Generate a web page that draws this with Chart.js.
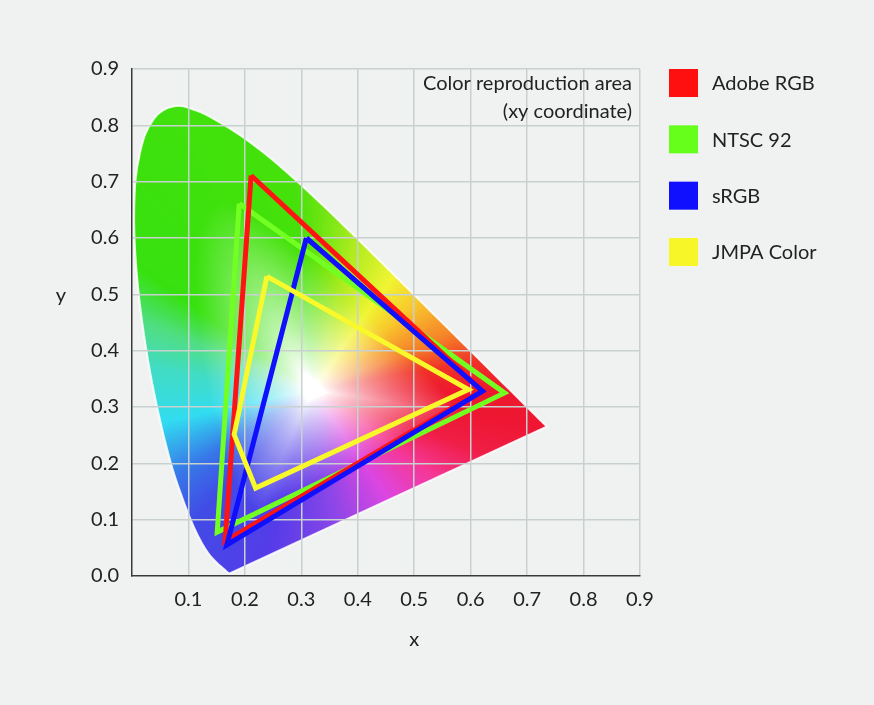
<!DOCTYPE html>
<html>
<head>
<meta charset="utf-8">
<script src="https://cdn.jsdelivr.net/npm/chart.js@4.4.0/dist/chart.umd.min.js"></script>
<style>
  html, body { margin: 0; padding: 0; background: #f0f2f2; }
  canvas { display: block; }
</style>
</head>
<body>
<canvas id="gamutChart" width="874" height="705"></canvas>
<script>
// CIE 1931 spectral locus (380 - 700 nm), read to match the picture
const locusX = [0.1741, 0.1740, 0.1738, 0.1736, 0.1733, 0.1730, 0.1726, 0.1721, 0.1714, 0.1703,
    0.1689, 0.1669, 0.1644, 0.1611, 0.1566, 0.1510, 0.1440, 0.1355, 0.1241, 0.1096,
    0.0913, 0.0687, 0.0454, 0.0235, 0.0082, 0.0039, 0.0139, 0.0389, 0.0743, 0.1142,
    0.1547, 0.1929, 0.2296, 0.2658, 0.3016, 0.3373, 0.3731, 0.4087, 0.4441, 0.4788,
    0.5125, 0.5448, 0.5752, 0.6029, 0.6270, 0.6482, 0.6658, 0.6801, 0.6915, 0.7079,
    0.7190, 0.7260, 0.7300, 0.7334, 0.7347];
const locusY = [0.0050, 0.0050, 0.0049, 0.0049, 0.0048, 0.0048, 0.0048, 0.0048, 0.0051, 0.0058,
    0.0069, 0.0086, 0.0109, 0.0138, 0.0177, 0.0227, 0.0297, 0.0399, 0.0578, 0.0868,
    0.1327, 0.2007, 0.2950, 0.4127, 0.5384, 0.6548, 0.7502, 0.8120, 0.8338, 0.8262,
    0.8059, 0.7816, 0.7543, 0.7243, 0.6923, 0.6589, 0.6245, 0.5896, 0.5547, 0.5202,
    0.4866, 0.4544, 0.4242, 0.3965, 0.3725, 0.3514, 0.3340, 0.3197, 0.3083, 0.2920,
    0.2809, 0.2740, 0.2700, 0.2666, 0.2653];

// gamut corners (x, y)
const adobeX = [0.211, 0.620, 0.165];
const adobeY = [0.711, 0.330, 0.062];
const ntscX = [0.190, 0.660, 0.151];
const ntscY = [0.661, 0.325, 0.078];
const srgbX = [0.309, 0.621, 0.168];
const srgbY = [0.600, 0.328, 0.055];
const jmpaX = [0.239, 0.596, 0.219, 0.181];
const jmpaY = [0.532, 0.331, 0.156, 0.251];

const seriesNames = ['Adobe RGB', 'NTSC 92', 'sRGB', 'JMPA Color'];
const noteLines = ['Color reproduction area', '(xy coordinate)'];

const FONT = 'Lato, "Open Sans", sans-serif';
const TEXT = '#222';

// colour wheel round the white point used to paint the diagram
const whiteX = 0.32, whiteY = 0.33;
const hueAngles = [0, 10, 22, 40, 55, 75, 95, 145, 158, 172, 192, 212, 228, 255, 280, 305, 325, 340, 351];
const hueColors = [
    [238, 25, 45], [240, 50, 40], [245, 130, 40], [248, 200, 45], [240, 245, 50], [170, 235, 30],
    [70, 225, 10], [55, 225, 15], [80, 222, 130], [65, 220, 195], [50, 220, 240], [55, 120, 232],
    [65, 75, 230], [85, 60, 232], [140, 70, 232], [220, 70, 225], [245, 55, 150], [240, 30, 70],
    [238, 22, 50]];

function toPoints(xs, ys, close) {
    const pts = xs.map((x, i) => ({x: x, y: ys[i]}));
    if (close) pts.push({x: xs[0], y: ys[0]});
    return pts;
}

function hueAt(deg) {
    for (let i = 0; i < hueAngles.length; i++) {
        const a0 = hueAngles[i];
        const a1 = i + 1 < hueAngles.length ? hueAngles[i + 1] : 360;
        if (deg >= a0 && deg <= a1) {
            const c0 = hueColors[i];
            const c1 = i + 1 < hueColors.length ? hueColors[i + 1] : hueColors[0];
            const t = (deg - a0) / (a1 - a0);
            return c0.map((v, k) => v + (c1[k] - v) * t);
        }
    }
    return hueColors[0];
}

// distance from the white point to the locus, per half degree
function locusRadius() {
    const out = [];
    const n = locusX.length;
    for (let k = 0; k < 720; k++) {
        const a = k / 2 * Math.PI / 180;
        const dx = Math.cos(a), dy = Math.sin(a);
        let best = 0;
        for (let i = 0; i < n; i++) {
            const j = (i + 1) % n;
            const ex = locusX[j] - locusX[i], ey = locusY[j] - locusY[i];
            const den = dx * ey - dy * ex;
            if (Math.abs(den) < 1e-12) continue;
            const wx = locusX[i] - whiteX, wy = locusY[i] - whiteY;
            const t = (wx * ey - wy * ex) / den;
            const u = (wx * dy - wy * dx) / den;
            if (t > 0 && u >= 0 && u <= 1 && t > best) best = t;
        }
        out.push(best || 0.3);
    }
    return out;
}

const diagramFill = {
    id: 'diagramFill',
    beforeDraw(chart) {
        const meta = chart.getDatasetMeta(0);
        if (!meta.data.length) return;
        const {ctx, chartArea} = chart;
        const sx = chart.scales.x, sy = chart.scales.y;
        const w = Math.ceil(chartArea.right - chartArea.left);
        const h = Math.ceil(chartArea.bottom - chartArea.top);

        if (!this.img || this.img.width !== w || this.img.height !== h) {
            const radius = locusRadius();
            const hues = [];
            for (let k = 0; k < 720; k++) hues.push(hueAt(k / 2));
            const off = document.createElement('canvas');
            off.width = w;
            off.height = h;
            const octx = off.getContext('2d');
            const img = octx.createImageData(w, h);
            for (let j = 0; j < h; j++) {
                const yv = sy.getValueForPixel(chartArea.top + j + 0.5);
                for (let i = 0; i < w; i++) {
                    const xv = sx.getValueForPixel(chartArea.left + i + 0.5);
                    const dx = xv - whiteX, dy = yv - whiteY;
                    let deg = Math.atan2(dy, dx) * 180 / Math.PI;
                    if (deg < 0) deg += 360;
                    const k = Math.round(deg * 2) % 720;
                    const s = Math.hypot(dx, dy) / radius[k];
                    let f = Math.min(1, Math.max(0, (s - 0.06) / 0.6));
                    f = Math.pow(f, 0.8);
                    const c = hues[k];
                    const p = (j * w + i) * 4;
                    img.data[p] = 255 - (255 - c[0]) * f;
                    img.data[p + 1] = 255 - (255 - c[1]) * f;
                    img.data[p + 2] = 255 - (255 - c[2]) * f;
                    img.data[p + 3] = 255;
                }
            }
            octx.putImageData(img, 0, 0);
            this.img = off;
        }

        // smooth outline of the locus from the line element of dataset 0
        const line = meta.dataset;
        ctx.save();
        ctx.beginPath();
        if (line && line.updateControlPoints) {
            line.updateControlPoints(chartArea, 'x');
            line.path(ctx);
        } else {
            meta.data.forEach((pt, i) => i ? ctx.lineTo(pt.x, pt.y) : ctx.moveTo(pt.x, pt.y));
        }
        ctx.closePath();
        ctx.save();
        ctx.clip();
        ctx.drawImage(this.img, chartArea.left, chartArea.top);
        ctx.restore();
        ctx.strokeStyle = 'rgba(255,255,255,0.85)';
        ctx.lineWidth = 2;
        ctx.stroke();
        ctx.restore();
    }
};

const labelsPlugin = {
    id: 'labelsPlugin',
    afterDraw(chart) {
        const {ctx, chartArea} = chart;
        const sx = chart.scales.x, sy = chart.scales.y;
        const step = sy.getPixelForValue(0) - sy.getPixelForValue(0.1);
        ctx.save();
        ctx.fillStyle = TEXT;
        ctx.font = '20px ' + FONT;
        ctx.textBaseline = 'middle';

        // note in the top right corner of the plot
        ctx.textAlign = 'right';
        noteLines.forEach((line, i) => ctx.fillText(line, chartArea.right - 8, chartArea.top + 15 + i * 28));

        // axis titles
        ctx.textAlign = 'center';
        ctx.fillText('x', sx.getPixelForValue(0.5), 640);
        ctx.fillText('y', 61, sy.getPixelForValue(0.5) + 1);

        // legend
        ctx.textAlign = 'left';
        const legendSets = chart.data.datasets.filter(d => d.inLegend);
        legendSets.forEach((d, i) => {
            const cy = chartArea.top + 14 + i * step;
            ctx.fillStyle = d.legendColor;
            ctx.fillRect(chartArea.right + 29, cy - 14, 29, 28);
            ctx.fillStyle = TEXT;
            ctx.fillText(d.label, chartArea.right + 72, cy + 1);
        });
        ctx.restore();
    }
};

const ctx = document.getElementById('gamutChart').getContext('2d');

const gamutChart = new Chart(ctx, {
    type: 'scatter',
    data: {
        datasets: [
            {
                label: 'locus',
                data: toPoints(locusX, locusY, false),
                borderColor: 'rgba(0,0,0,0)',
                borderWidth: 0,
                tension: 0.4,
                order: 5
            },
            {
                label: seriesNames[0],
                data: toPoints(adobeX, adobeY, true),
                borderColor: '#ff1414',
                legendColor: '#ff1010',
                inLegend: true,
                order: 3
            },
            {
                label: seriesNames[1],
                data: toPoints(ntscX, ntscY, true),
                borderColor: '#72ff22',
                legendColor: '#66ff1c',
                inLegend: true,
                order: 4
            },
            {
                label: seriesNames[2],
                data: toPoints(srgbX, srgbY, true),
                borderColor: '#1010ff',
                legendColor: '#1010ff',
                inLegend: true,
                order: 2
            },
            {
                label: seriesNames[3],
                data: toPoints(jmpaX, jmpaY, true),
                borderColor: '#f8f82a',
                legendColor: '#f6f628',
                inLegend: true,
                order: 1
            }
        ]
    },
    options: {
        responsive: false,
        animation: false,
        layout: {
            padding: {top: 69, right: 234, left: 0, bottom: 0}
        },
        datasets: {
            scatter: {
                showLine: true,
                borderWidth: 5,
                borderJoinStyle: 'miter',
                pointRadius: 0,
                fill: false
            }
        },
        plugins: {
            legend: {display: false},
            tooltip: {enabled: false}
        },
        scales: {
            x: {
                type: 'linear',
                min: 0,
                max: 0.9,
                afterFit: scale => { scale.height = 129; },
                ticks: {
                    stepSize: 0.1,
                    padding: 12,
                    color: TEXT,
                    font: {family: FONT, size: 20},
                    callback: v => v === 0 ? '' : v.toFixed(1)
                },
                grid: {
                    drawTicks: false,
                    lineWidth: 1.5,
                    color: c => c.tick && c.tick.value === 0 ? 'rgba(0,0,0,0)' : '#c8d0d0'
                },
                border: {color: '#3a3a3a', width: 1.5}
            },
            y: {
                type: 'linear',
                min: 0,
                max: 0.9,
                afterFit: scale => { scale.width = 132; },
                ticks: {
                    stepSize: 0.1,
                    padding: 13,
                    color: TEXT,
                    font: {family: FONT, size: 20},
                    callback: v => v.toFixed(1)
                },
                grid: {
                    drawTicks: false,
                    lineWidth: 1.5,
                    color: c => c.tick && c.tick.value === 0 ? 'rgba(0,0,0,0)' : '#c8d0d0'
                },
                border: {color: '#3a3a3a', width: 1.5}
            }
        }
    },
    plugins: [diagramFill, labelsPlugin]
});
</script>
</body>
</html>
